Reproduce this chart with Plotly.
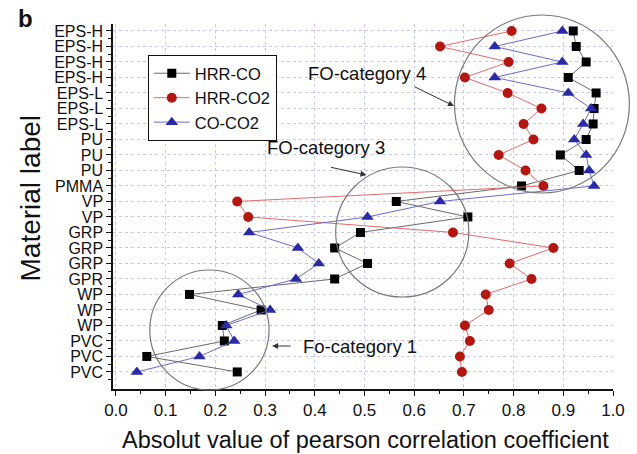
import plotly.graph_objects as go

# Rows listed top to bottom as in the figure
labels = ["EPS-H", "EPS-H", "EPS-H", "EPS-H", "EPS-L", "EPS-L", "EPS-L",
          "PU", "PU", "PU", "PMMA", "VP", "VP", "GRP", "GRP", "GRP", "GPR",
          "WP", "WP", "WP", "PVC", "PVC", "PVC"]

hrr_co = [0.920, 0.926, 0.946, 0.910, 0.966, 0.962, 0.960, 0.946, 0.894, 0.932,
          0.816, 0.564, 0.708, 0.492, 0.440, 0.506, 0.440, 0.148, 0.292, 0.214,
          0.218, 0.062, 0.244]
hrr_co2 = [0.796, 0.652, 0.790, 0.702, 0.788, 0.856, 0.820, 0.840, 0.770, 0.824,
           0.860, 0.244, 0.266, 0.678, 0.880, 0.792, 0.836, 0.744, 0.750, 0.702,
           0.712, 0.692, 0.696]
co_co2 = [0.898, 0.762, 0.898, 0.762, 0.910, 0.956, 0.940, 0.922, 0.946, 0.952,
          0.962, 0.652, 0.506, 0.268, 0.366, 0.408, 0.362, 0.246, 0.310, 0.222,
          0.238, 0.168, 0.042]

n = len(labels)
ypos = [n - 1 - i for i in range(n)]

W, H = 637, 454
ML, MR, MT, MB = 113, 21, 24, 65
XR = [-0.006, 1.0]
YR = [-1.1, 22.45]
FONT = "Liberation Sans, Arial, sans-serif"


def px2paper(px, py):
    return (px - ML) / (W - ML - MR), (H - MB - py) / (H - MT - MB)


fig = go.Figure()
fig.add_trace(go.Scatter(
    x=hrr_co, y=ypos, mode="lines+markers", name="HRR-CO",
    line=dict(color="#6a6a6a", width=1),
    marker=dict(symbol="square", size=9, color="#000000")))
fig.add_trace(go.Scatter(
    x=hrr_co2, y=ypos, mode="lines+markers", name="HRR-CO2",
    line=dict(color="#e46a6a", width=1),
    marker=dict(symbol="circle", size=10, color="#b3170f")))
fig.add_trace(go.Scatter(
    x=co_co2, y=ypos, mode="lines+markers", name="CO-CO2",
    line=dict(color="#6a6ad0", width=1),
    marker=dict(symbol="triangle-up", size=11, color="#2a2aa6")))

# category circles (pixel centre, radius)
circles = [(544.5, 104, 88, 89), (404, 232, 67, 65), (210, 330, 60, 60)]
shapes = []
for cx, cy, rx, ry in circles:
    x0, y0 = px2paper(cx - rx, cy + ry)
    x1, y1 = px2paper(cx + rx, cy - ry)
    shapes.append(dict(type="circle", xref="paper", yref="paper",
                       x0=x0, x1=x1, y0=y0, y1=y1,
                       line=dict(color="#7a7a7a", width=1.2)))

annotations = []


def text_ann(txt, px, py, size=18.5, xanchor="left", bold=False, angle=0):
    x, y = px2paper(px, py)
    annotations.append(dict(
        text=("<b>%s</b>" % txt) if bold else txt, x=x, y=y, xref="paper",
        yref="paper", showarrow=False, xanchor=xanchor, yanchor="middle",
        textangle=angle, font=dict(family=FONT, size=size, color="#111")))


def arrow(tx, ty, hx, hy):
    x, y = px2paper(hx, hy)
    annotations.append(dict(
        text="", x=x, y=y, xref="paper", yref="paper", showarrow=True,
        ax=tx - hx, ay=ty - hy, arrowhead=2, arrowsize=1.2, arrowwidth=1,
        arrowcolor="#333"))


text_ann("FO-category 4", 307, 73)
arrow(415, 86, 456, 106)
text_ann("FO-category 3", 266, 147)
arrow(331, 167, 368, 175)
text_ann("Fo-category 1", 302, 346)
arrow(293, 346, 273, 346)
text_ann("b", 25, 19, size=24, xanchor="center", bold=True)
text_ann("Material label", 30, 198, size=28, xanchor="center", angle=-90)
text_ann("Absolut value of pearson correlation coefficient", 367, 440,
         size=23.5, xanchor="center")

fig.update_layout(
    width=W, height=H,
    margin=dict(l=ML, r=MR, t=MT, b=MB, pad=0),
    paper_bgcolor="white", plot_bgcolor="white",
    font=dict(family=FONT, color="#111"),
    showlegend=True,
    legend=dict(x=px2paper(148, 55)[0], y=px2paper(148, 55)[1],
                xanchor="left", yanchor="top",
                bgcolor="white", bordercolor="#111", borderwidth=1,
                font=dict(family=FONT, size=16.5), tracegroupgap=0,
                itemwidth=36),
    shapes=shapes, annotations=annotations,
    xaxis=dict(range=XR, dtick=0.1, tick0=0, tickformat=".1f",
               showline=True, linecolor="#111", linewidth=1.5,
               ticks="outside", ticklen=5, tickcolor="#111",
               minor=dict(dtick=0.05, tick0=0, ticks="outside", ticklen=3,
                          tickcolor="#111", showgrid=False),
               showgrid=True, gridcolor="#c8c8ee", griddash="dot", gridwidth=1,
               zeroline=False, tickfont=dict(family=FONT, size=17)),
    yaxis=dict(range=YR, tickmode="array", tickvals=ypos, ticktext=labels,
               showline=True, linecolor="#111", linewidth=1.5,
               ticks="outside", ticklen=5, tickcolor="#111",
               minor=dict(tickmode="array",
                          tickvals=[v + 0.5 for v in range(-1, n)],
                          ticks="outside", ticklen=3, tickcolor="#111",
                          showgrid=False),
               showgrid=True, gridcolor="#c8c8ee", griddash="dot", gridwidth=1,
               zeroline=False, tickfont=dict(family=FONT, size=16)),
)

fig.write_html("out.html")
